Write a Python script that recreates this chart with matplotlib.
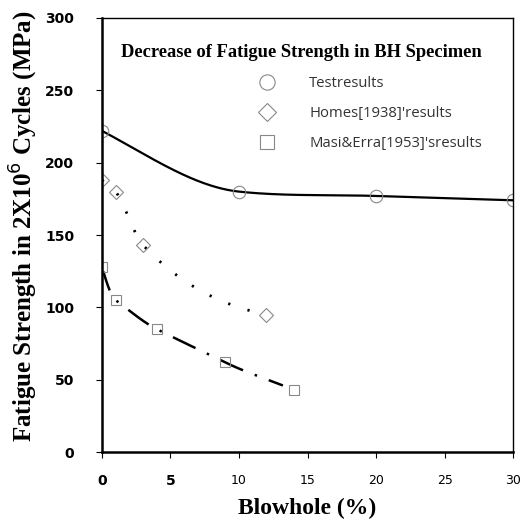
import numpy as np
import matplotlib.pyplot as plt
from matplotlib.lines import Line2D

# data
test_x = [0, 10, 20, 30]
test_y = [222, 180, 177, 174]
homes_x = [0, 1, 3, 12]
homes_y = [188, 180, 143, 95]
masi_x = [0, 1, 4, 9, 14]
masi_y = [128, 105, 85, 62, 43]

x_ticks = [0, 5, 10, 15, 20, 25, 30]
y_ticks = [0, 50, 100, 150, 200, 250, 300]

# slopes for the hand-drawn looking trend curves
test_slope = [-5.0, -1.0, -0.3, -0.3]
homes_slope = [-9.0, -12.0, -10.0, -2.0]
masi_slope = [-32.0, -7.0, -4.8, -4.6, -4.0]


def hermite(x, y, m, xs):
    x = np.asarray(x, float)
    y = np.asarray(y, float)
    m = np.asarray(m, float)
    k = np.clip(np.searchsorted(x, xs, side='right') - 1, 0, len(x) - 2)
    h = x[k + 1] - x[k]
    t = (xs - x[k]) / h
    h00 = 2 * t**3 - 3 * t**2 + 1
    h10 = t**3 - 2 * t**2 + t
    h01 = -2 * t**3 + 3 * t**2
    h11 = t**3 - t**2
    return h00 * y[k] + h10 * h * m[k] + h01 * y[k + 1] + h11 * h * m[k + 1]


fig = plt.figure(figsize=(5.2, 5.27), dpi=100)
ax = fig.add_axes([0.196, 0.142, 0.791, 0.824])

xs = np.linspace(0, 30, 300)
ax.plot(xs, hermite(test_x, test_y, test_slope, xs), color='black', lw=1.6)
xs = np.linspace(0, 11, 200)
ax.plot(xs, hermite(homes_x, homes_y, homes_slope, xs), color='black', lw=2,
        linestyle=(0, (0.8, 6.5)))
xs = np.linspace(0.1, 13.2, 200)
ax.plot(xs, hermite(masi_x, masi_y, masi_slope, xs), color='black', lw=1.8,
        linestyle=(2, (10, 5, 1, 5)))

mk = dict(mfc='none', mec='#888888', mew=0.8, linestyle='none')
ax.plot(test_x, test_y, marker='o', ms=9, **mk)
ax.plot(homes_x, homes_y, marker='D', ms=7, **mk)
ax.plot(masi_x, masi_y, marker='s', ms=7, **mk)

ax.set_xlim(0, 30)
ax.set_ylim(0, 300)
ax.set_xticks(x_ticks)
ax.set_yticks(y_ticks)
ax.tick_params(direction='out', length=4, labelsize=10)
ax.tick_params(axis='x', pad=12)
ax.tick_params(axis='y', pad=16)
for lab in ax.get_xticklabels() + ax.get_yticklabels():
    lab.set_family(['Liberation Sans Narrow', 'DejaVu Sans'])
    lab.set_fontweight('bold')
for lab in ax.get_xticklabels()[2:]:
    lab.set_fontweight('normal')
    lab.set_fontsize(9)
for s in ['left', 'bottom']:
    ax.spines[s].set_linewidth(1.8)
for s in ['top', 'right']:
    ax.spines[s].set_linewidth(1.0)

ax.set_xlabel('Blowhole (%)', family='Liberation Serif', fontweight='bold', fontsize=17,
              labelpad=7)
ax.set_ylabel('Fatigue Strength in 2X10$^6$ Cycles (MPa)', family='Liberation Serif',
              fontweight='bold', fontsize=18)
ax.yaxis.set_label_coords(-0.15, 0.52)

handles = [
    Line2D([], [], marker='o', ms=11, **mk),
    Line2D([], [], marker='D', ms=9, **mk),
    Line2D([], [], marker='s', ms=10, **mk),
]
labels = ['Testresults', "Homes[1938]'results", "Masi&Erra[1953]'sresults"]
leg = ax.legend(handles, labels, loc='upper center', frameon=False,
                title='Decrease of Fatigue Strength in BH Specimen',
                title_fontproperties={'family': 'Liberation Serif', 'weight': 'bold', 'size': 13.3},
                prop={'family': 'Open Sans', 'size': 10.7}, labelcolor='#333333',
                labelspacing=1.0, handletextpad=1.8, borderaxespad=0.2,
                bbox_to_anchor=(0.485, 0.96))
leg._legend_box.align = 'right'

fig.savefig('out.png', dpi=100)
